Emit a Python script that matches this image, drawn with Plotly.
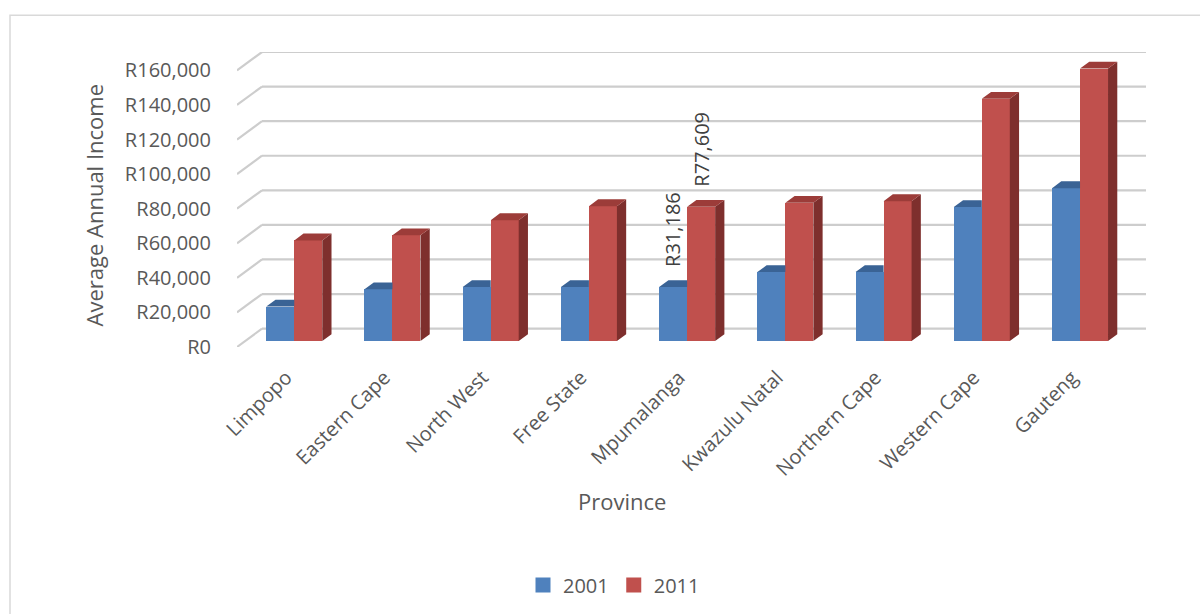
import plotly.graph_objects as go

# ---------------- data ----------------
provinces = ["Limpopo", "Eastern Cape", "North West", "Free State", "Mpumalanga",
             "Kwazulu Natal", "Northern Cape", "Western Cape", "Gauteng"]
income_2001 = [19900, 29900, 31200, 31200, 31186, 39900, 39900, 77500, 88400]
income_2011 = [58200, 61100, 69900, 78000, 77609, 80000, 80900, 140100, 157600]
series_names = ["2001", "2011"]
y_ticks = [0, 20000, 40000, 60000, 80000, 100000, 120000, 140000, 160000]
y_ticktext = ["R{:,}".format(v) for v in y_ticks]
labelled_category = "Mpumalanga"

# ---------------- style / 3-D projection ----------------
W, H = 1200, 614
PL, PR, PT, PB = 237, 1146, 52, 348          # plot area in pixels
DX = 0.2546      # full depth offset, x (category units)
DY = 10636       # full depth offset, y (value units)
D0 = 0.326       # depth of bar front face
BD = 0.37        # bar depth
BW = 0.285       # bar width (category units)
front_cols = ["#4F81BD", "#C0504D"]
top_cols = ["#3A6395", "#9C3C39"]
side_cols = ["#335782", "#7E2F2D"]
grid_col = "#CDCDCD"
text_col = "#595959"
FONT = "Open Sans"

n = len(provinces)
x_range = [-0.5, n - 0.5 + DX]
y_range = [0, y_ticks[-1] + DY]


def px_to_paper_x(px):
    return (px - PL) / (PR - PL)


def px_to_paper_y(py):
    return (PB - py) / (PB - PT)


fig = go.Figure()
series = [income_2001, income_2011]
base = DY * D0

# front faces (bars)
centers = []
for s, vals in enumerate(series):
    off = (-BW / 2) if s == 0 else (BW / 2)
    xs = [i + off + DX * D0 for i in range(n)]
    centers.append(xs)
    fig.add_trace(go.Bar(
        x=xs, y=vals, base=[base] * n, width=[BW] * n,
        marker=dict(color=front_cols[s], line=dict(width=0)),
        name=series_names[s], showlegend=False, hoverinfo="skip"))

# top and side faces
for s, vals in enumerate(series):
    tx, ty, sx, sy = [], [], [], []
    for i, v in enumerate(vals):
        xl = centers[s][i] - BW / 2
        xr = centers[s][i] + BW / 2
        top = base + v
        if s == 0:
            tx += [xl, xr, xr, xl + DX * BD, xl, None]
        else:
            tx += [xl, xr, xr + DX * BD, xl + DX * BD, xl, None]
        ty += [top, top, top + DY * BD, top + DY * BD, top, None]
        sx += [xr, xr + DX * BD, xr + DX * BD, xr, xr, None]
        sy += [base, base + DY * BD, top + DY * BD, top, base, None]
    if s == 1:
        fig.add_trace(go.Scatter(x=sx, y=sy, mode="lines", fill="toself",
                                 fillcolor=side_cols[s], line=dict(width=0, color=side_cols[s]),
                                 showlegend=False, hoverinfo="skip"))
    fig.add_trace(go.Scatter(x=tx, y=ty, mode="lines", fill="toself",
                             fillcolor=top_cols[s], line=dict(width=0, color=top_cols[s]),
                             showlegend=False, hoverinfo="skip"))

# legend entries (square swatches)
for s in range(2):
    fig.add_trace(go.Scatter(x=[None], y=[None], mode="markers", name=series_names[s],
                             marker=dict(symbol="square", size=15, color=front_cols[s]),
                             showlegend=True, hoverinfo="skip"))

# back-wall gridlines
shapes = []
for v in y_ticks:
    shapes.append(dict(type="line", xref="x", yref="y", layer="below",
                       x0=-0.5, y0=v, x1=-0.5 + DX, y1=v + DY,
                       line=dict(color=grid_col, width=2.2)))
    shapes.append(dict(type="line", xref="x", yref="y", layer="below",
                       x0=-0.5 + DX, y0=v + DY, x1=n - 0.5 + DX, y1=v + DY,
                       line=dict(color=grid_col, width=2.2)))
# chart border
shapes.append(dict(type="rect", xref="paper", yref="paper", layer="below",
                   x0=px_to_paper_x(10), y0=px_to_paper_y(640),
                   x1=px_to_paper_x(1230), y1=px_to_paper_y(15),
                   line=dict(color="#D9D9D9", width=1.5), fillcolor="rgba(0,0,0,0)"))

# data labels for one category
annotations = []
k = provinces.index(labelled_category)
for s, vals in enumerate(series):
    annotations.append(dict(
        x=centers[s][k], y=base + vals[k] + DY * BD, xref="x", yref="y",
        text="R{:,}".format(vals[k]), showarrow=False, textangle=-90,
        xanchor="center", yanchor="bottom", yshift=11,
        font=dict(family=FONT, size=20, color="#404040")))

# axis titles
annotations.append(dict(
    x=px_to_paper_x(94), y=px_to_paper_y(206), xref="paper", yref="paper",
    text="Average Annual Income", showarrow=False, textangle=-90,
    xanchor="center", yanchor="middle",
    font=dict(family=FONT, size=22, color=text_col)))
annotations.append(dict(
    x=px_to_paper_x(622), y=px_to_paper_y(503), xref="paper", yref="paper",
    text="Province", showarrow=False, xanchor="center", yanchor="middle",
    font=dict(family=FONT, size=22, color=text_col)))

fig.update_layout(
    width=W, height=H,
    margin=dict(l=PL, r=W - PR, t=PT, b=H - PB, pad=0),
    paper_bgcolor="white", plot_bgcolor="white",
    barmode="overlay", bargap=0,
    showlegend=True,
    legend=dict(orientation="h", x=px_to_paper_x(614), y=px_to_paper_y(585),
                xanchor="center", yanchor="middle",
                font=dict(family=FONT, size=20, color=text_col),
                itemwidth=30, tracegroupgap=0, traceorder="normal"),
    shapes=shapes,
    annotations=annotations,
    xaxis=dict(range=x_range, tickmode="array", tickvals=list(range(n)),
               ticktext=provinces, tickangle=-45, showgrid=False, zeroline=False,
               showline=False, ticks="", ticklabelstandoff=14,
               tickfont=dict(family=FONT, size=20, color=text_col), fixedrange=True),
    yaxis=dict(range=y_range, tickmode="array", tickvals=y_ticks, ticktext=y_ticktext,
               showgrid=False, zeroline=False, showline=False, ticks="",
               ticklabelstandoff=25,
               tickfont=dict(family=FONT, size=20, color=text_col), fixedrange=True),
)

fig.write_html("out.html")
